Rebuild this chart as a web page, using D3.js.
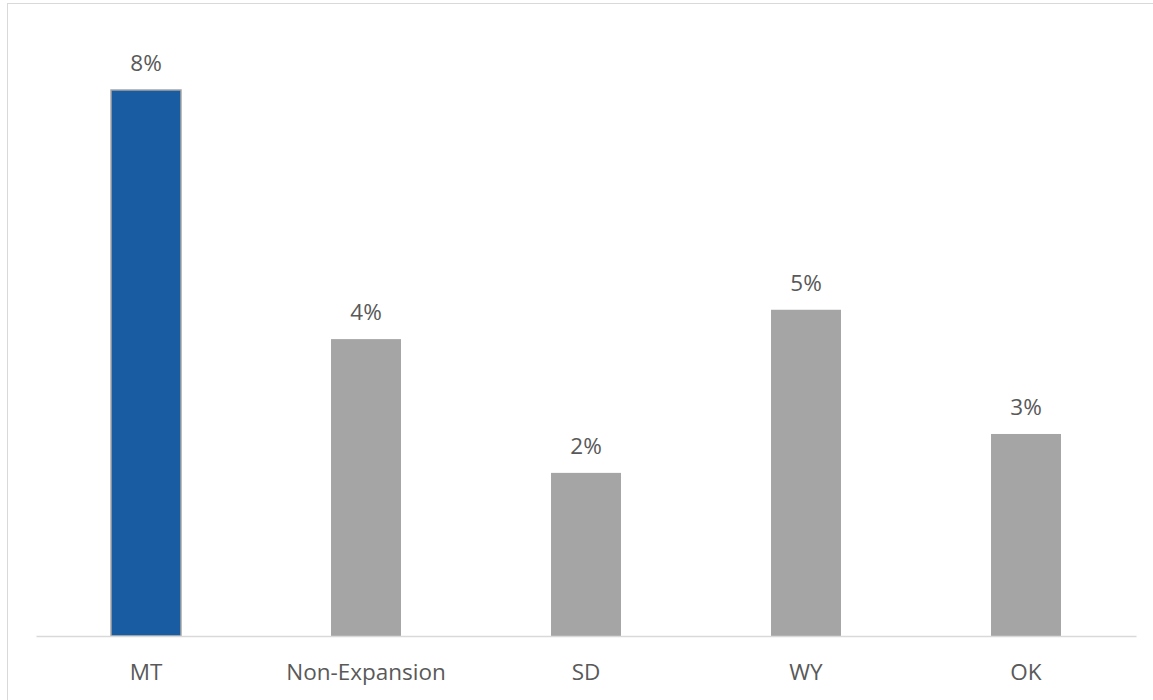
<!DOCTYPE html>
<html>
<head>
<meta charset="utf-8">
<script src="https://cdn.jsdelivr.net/npm/d3@7"></script>
<style>
  body { margin: 0; background: #fff; }
  svg { display: block; }
</style>
</head>
<body>
<svg id="chart"></svg>
<script>
// Data
let categories = ["MT", "Non-Expansion", "SD", "WY", "OK"];
let values = [8.0, 4.35, 2.39, 4.78, 2.96];
let labels = ["8%", "4%", "2%", "5%", "3%"];
let highlight = "MT";

// Colors
let mblue = "#1a5ca1";
let mgray = "#a5a5a5";
let textColor = "#595959";

drawChart();

function drawChart() {
  let width = 1153;
  let height = 700;
  let left = 36, right = 1136, bottom = 636;
  let fontSize = "22.5";

  let svg = d3.select("#chart")
    .attr("width", width)
    .attr("height", height);

  // chart frame
  svg.append("rect")
    .attr("x", 7.5)
    .attr("y", 3.5)
    .attr("width", width + 20)
    .attr("height", height + 20)
    .attr("fill", "none")
    .attr("stroke", "#d9d9d9")
    .attr("stroke-width", 1);

  let xax = d3.scaleBand()
    .domain(categories)
    .range([left, right])
    .paddingInner(0.682)
    .paddingOuter(0.341);

  let yax = d3.scaleLinear()
    .domain([0, 8.0])
    .range([bottom, 90]);

  svg.append("g")
    .selectAll("rect")
    .data(categories)
    .join("rect")
      .attr("x", d => xax(d))
      .attr("y", (d, i) => yax(values[i]))
      .attr("width", xax.bandwidth())
      .attr("height", (d, i) => bottom - yax(values[i]))
      .attr("fill", d => d == highlight ? mblue : mgray)
      .attr("stroke", d => d == highlight ? "#a5a5a5" : "none")
      .attr("stroke-width", 1.5);

  // baseline + category labels
  let axis = d3.axisBottom(xax).tickSize(0).tickPadding(0);
  let g = svg.append("g")
    .attr("transform", `translate(0, ${bottom})`)
    .call(axis);
  g.select(".domain").attr("stroke", "#d9d9d9").attr("stroke-width", 1.5);
  g.selectAll("text")
    .attr("y", 44)
    .attr("dy", null)
    .attr("fill", textColor)
    .attr("font-size", fontSize)
    .attr("font-family", "'Open Sans', sans-serif");

  // value labels
  svg.append("g")
    .selectAll("text")
    .data(categories)
    .join("text")
      .attr("x", d => xax(d) + xax.bandwidth()/2)
      .attr("y", (d, i) => yax(values[i]) - 19)
      .text((d, i) => labels[i])
      .attr("fill", textColor)
      .attr("text-anchor", "middle")
      .attr("font-size", fontSize)
      .attr("font-family", "'Open Sans', sans-serif");
}
</script>
</body>
</html>
